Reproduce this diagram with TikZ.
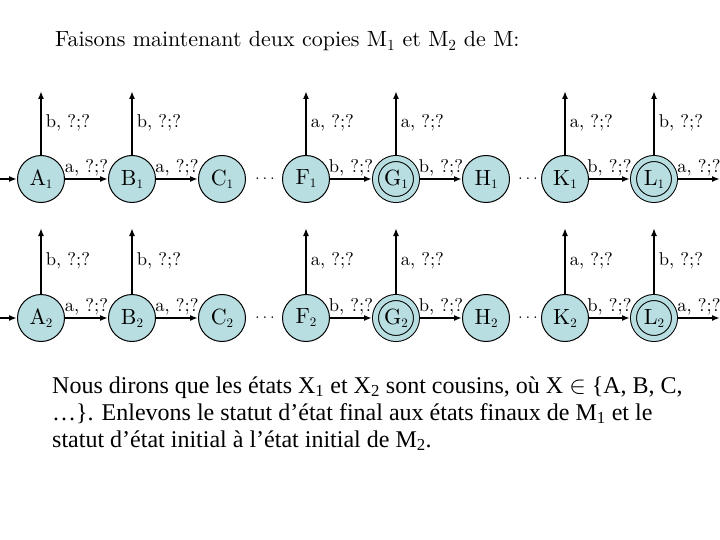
\documentclass[tikz,border=0pt]{standalone}
\usepackage{fontspec}
\setmainfont{lmroman10-regular}[Extension=.otf]
\newfontfamily\timesfont{Liberation Serif}
\usetikzlibrary{arrows.meta}
\definecolor{statefill}{RGB}{184,222,226}
\newcommand{\statesub}[1]{\raisebox{-3pt}{\fontsize{13}{13}\selectfont #1}}
\begin{document}
\begin{tikzpicture}
	[	x=1pt,y=-1pt,
	state/.style={circle,draw=black,fill=statefill,line width=1pt,minimum size=47pt,inner sep=0pt,font=\fontsize{22}{22}\selectfont},
	acc/.style={state,minimum size=41pt,double=statefill,double distance=5pt,outer sep=3.5pt},
	trans/.style={-{Latex[length=8pt,width=6pt]},line width=1.6pt},
	lbl/.style={font=\fontsize{18.5}{18.5}\selectfont,inner sep=2pt},
	plain/.style={draw=none,fill=none,inner sep=0pt}
	]
	\useasboundingbox (0,0) rectangle (720,540);
\node[plain,anchor=base west,font=\fontsize{22}{26}\selectfont] (title) at (55,47){Faisons maintenant deux copies M\textsubscript{1} et M\textsubscript{2} de M:};
	\node[state] (a1) at (41,179){A\statesub{1}};
	\node[state] (b1) at (132,179){B\statesub{1}};
	\node[state] (c1) at (222,179){C\statesub{1}};
	\node[state] (f1) at (306,179){F\statesub{1}};
	\node[acc] (g1) at (396,179){G\statesub{1}};
	\node[state] (h1) at (486,179){H\statesub{1}};
	\node[state] (k1) at (565,179){K\statesub{1}};
	\node[acc] (l1) at (654,179){L\statesub{1}};
\node[plain,font=\fontsize{19}{19}\selectfont] (dotsA1) at (265,179){$\ldots$};
\node[plain,font=\fontsize{19}{19}\selectfont] (dotsB1) at (528,179){$\ldots$};
	\coordinate (init1) at (0,179);
	\coordinate (fin1) at (720,179);
	\coordinate (a1up) at (41,91);
	\coordinate (b1up) at (132,91);
	\coordinate (f1up) at (306,91);
	\coordinate (g1up) at (396,91);
	\coordinate (k1up) at (565,91);
	\coordinate (l1up) at (654,91);
	\draw[trans] (init1) -- (a1);
	\draw[trans] (a1) -- node[lbl,above]{a, ?;?} (b1);
	\draw[trans] (b1) -- node[lbl,above]{a, ?;?} (c1);
	\draw[trans] (f1) -- node[lbl,above]{b, ?;?} (g1);
	\draw[trans] (g1) -- node[lbl,above]{b, ?;?} (h1);
	\draw[trans] (k1) -- node[lbl,above]{b, ?;?} (l1);
	\draw[trans] (l1) -- node[lbl,above]{a, ?;?} (fin1);
	\draw[trans] (a1) -- node[lbl,right=2pt]{b, ?;?} (a1up);
	\draw[trans] (b1) -- node[lbl,right=2pt]{b, ?;?} (b1up);
	\draw[trans] (f1) -- node[lbl,right=2pt]{a, ?;?} (f1up);
	\draw[trans] (g1) -- node[lbl,right=2pt]{a, ?;?} (g1up);
	\draw[trans] (k1) -- node[lbl,right=2pt]{a, ?;?} (k1up);
	\draw[trans] (l1) -- node[lbl,right=2pt]{b, ?;?} (l1up);
	\node[state] (a2) at (41,318){A\statesub{2}};
	\node[state] (b2) at (132,318){B\statesub{2}};
	\node[state] (c2) at (222,318){C\statesub{2}};
	\node[state] (f2) at (306,318){F\statesub{2}};
	\node[acc] (g2) at (396,318){G\statesub{2}};
	\node[state] (h2) at (486,318){H\statesub{2}};
	\node[state] (k2) at (565,318){K\statesub{2}};
	\node[acc] (l2) at (654,318){L\statesub{2}};
\node[plain,font=\fontsize{19}{19}\selectfont] (dotsA2) at (265,318){$\ldots$};
\node[plain,font=\fontsize{19}{19}\selectfont] (dotsB2) at (528,318){$\ldots$};
	\coordinate (init2) at (0,318);
	\coordinate (fin2) at (720,318);
	\coordinate (a2up) at (41,228);
	\coordinate (b2up) at (132,228);
	\coordinate (f2up) at (306,228);
	\coordinate (g2up) at (396,228);
	\coordinate (k2up) at (565,228);
	\coordinate (l2up) at (654,228);
	\draw[trans] (init2) -- (a2);
	\draw[trans] (a2) -- node[lbl,above]{a, ?;?} (b2);
	\draw[trans] (b2) -- node[lbl,above]{a, ?;?} (c2);
	\draw[trans] (f2) -- node[lbl,above]{b, ?;?} (g2);
	\draw[trans] (g2) -- node[lbl,above]{b, ?;?} (h2);
	\draw[trans] (k2) -- node[lbl,above]{b, ?;?} (l2);
	\draw[trans] (l2) -- node[lbl,above]{a, ?;?} (fin2);
	\draw[trans] (a2) -- node[lbl,right=2pt]{b, ?;?} (a2up);
	\draw[trans] (b2) -- node[lbl,right=2pt]{b, ?;?} (b2up);
	\draw[trans] (f2) -- node[lbl,right=2pt]{a, ?;?} (f2up);
	\draw[trans] (g2) -- node[lbl,right=2pt]{a, ?;?} (g2up);
	\draw[trans] (k2) -- node[lbl,right=2pt]{a, ?;?} (k2up);
	\draw[trans] (l2) -- node[lbl,right=2pt]{b, ?;?} (l2up);
\node[plain,anchor=base west,font=\timesfont\fontsize{24}{28}\selectfont] (remarkA) at (52,393){Nous dirons que les états X\textsubscript{1} et X\textsubscript{2} sont cousins, où X~$\in$~\{A, B, C,};
\node[plain,anchor=base west,font=\timesfont\fontsize{24}{28}\selectfont] (remarkB) at (52,420){…\}. Enlevons le statut d’état final aux états finaux de M\textsubscript{1} et le};
\node[plain,anchor=base west,font=\timesfont\fontsize{24}{28}\selectfont] (remarkC) at (52,447){statut d’état initial à l’état initial de M\textsubscript{2}.};
\end{tikzpicture}
\end{document}
